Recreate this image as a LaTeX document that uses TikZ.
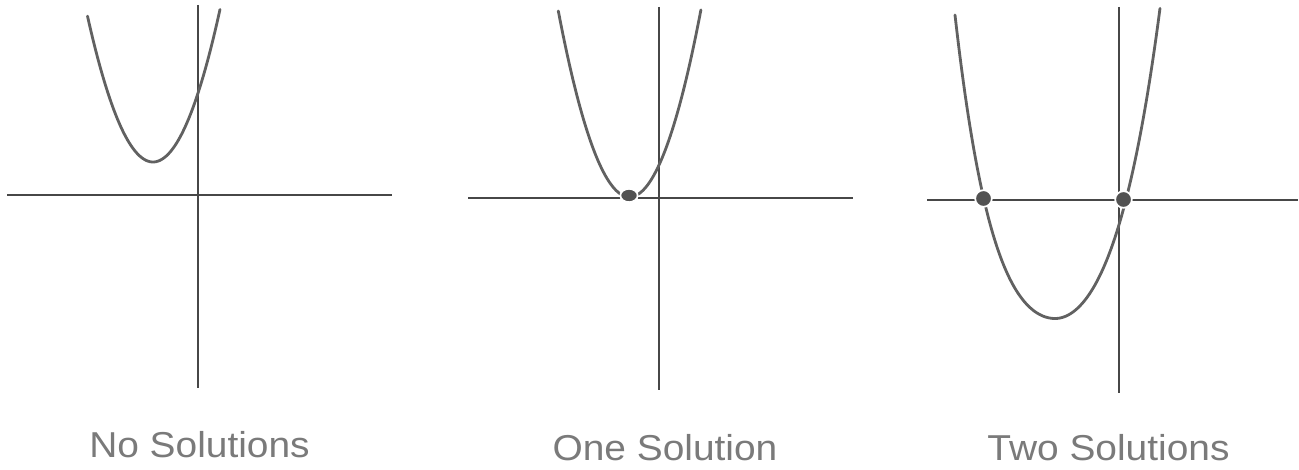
\documentclass[tikz,border=0pt]{standalone}
\usepackage{fontspec}
\usetikzlibrary{shapes.geometric}
\setmainfont{Liberation Sans}
\begin{document}
\begin{tikzpicture}[x=0.75pt,y=-0.75pt,
  axisline/.style={draw=black!72,line width=1.1pt},
  curveline/.style={draw=black!62,line width=2.1pt,line cap=round},
  soldot/.style={circle,draw=white,line width=1.3pt,fill=black!68,inner sep=0pt,minimum size=12.5pt},
  caption/.style={anchor=base,text=black!52,font=\fontsize{27}{30}\selectfont,xscale=1.08,inner sep=0pt}]
\useasboundingbox[fill=white] (0,0) rectangle (1299,470);
% panel 1
\draw[axisline] (7,195) -- (392,195);
\draw[axisline] (198,5) -- (198,388);
\draw[curveline] plot[domain=-0.655:0.67,samples=80,smooth] ({153+100*\x},{162-340*\x*\x});
\node[caption] (c1) at (199.5,457) {No Solutions};
% panel 2
\draw[axisline] (468,198) -- (853,198);
\draw[axisline] (659,7) -- (659,390);
\draw[curveline] plot[domain=-0.712:0.715,samples=80,smooth] ({629.5+100*\x},{197-367*\x*\x});
\node[soldot,ellipse,minimum width=13pt,minimum height=10pt] (d1) at (629,195.5) {};
\node[caption] (c2) at (665,460) {One Solution};
% panel 3
\draw[axisline] (927,200) -- (1298,200);
\draw[axisline] (1119,7) -- (1119,393);
\draw[curveline] plot[domain=-1:0,samples=80,smooth] ({1055+100*\x},{318.5-166.4*\x*\x-137.1*\x*\x*\x*\x})
  -- plot[domain=0:1.05,samples=80,smooth] ({1055+100*\x},{318.5-198.1*\x*\x-75.5*\x*\x*\x*\x});
\node[soldot] (d2) at (983.5,198.5) {};
\node[soldot] (d3) at (1123.5,199.5) {};
\node[caption] (c3) at (1108.5,460) {Two Solutions};
\end{tikzpicture}
\end{document}
